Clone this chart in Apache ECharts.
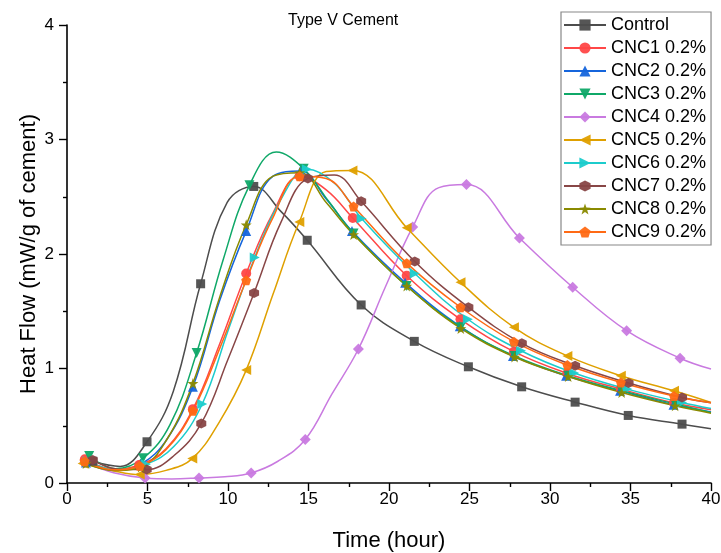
<!DOCTYPE html>
<html>
<head>
<meta charset="UTF-8">
<title>Type V Cement</title>
<script src="https://cdn.jsdelivr.net/npm/echarts@6/dist/echarts.min.js"></script>
<style>
  html, body { margin: 0; padding: 0; background: #fff; }
  #chart { width: 721px; height: 553px; }
</style>
</head>
<body>
<div id="chart"></div>
<script>
// series names
var names = ['Control', 'CNC1 0.2%', 'CNC2 0.2%', 'CNC3 0.2%', 'CNC4 0.2%', 'CNC5 0.2%',
             'CNC6 0.2%', 'CNC7 0.2%', 'CNC8 0.2%', 'CNC9 0.2%'];

// marked points [time, heat flow]
var controlPts = [[1.6,0.19],[4.97,0.36],[8.3,1.74],[11.6,2.59],[14.92,2.12],[18.27,1.555],[21.57,1.237],[24.93,1.015],[28.24,0.84],[31.56,0.706],[34.86,0.59],[38.2,0.514]];
var cnc1Pts = [[1.11,0.207],[4.48,0.157],[7.82,0.645],[11.13,1.83],[14.45,2.68],[17.75,2.315],[21.1,1.81],[24.44,1.43],[27.76,1.147],[31.08,0.957],[34.4,0.82],[37.7,0.70]];
var cnc2Pts = [[1.18,0.178],[4.6,0.165],[7.82,0.84],[11.13,2.2],[14.49,2.725],[17.7,2.2],[21.0,1.75],[24.4,1.37],[27.7,1.11],[31.0,0.937],[34.35,0.805],[37.67,0.683]];
var cnc3Pts = [[1.38,0.236],[4.72,0.216],[8.05,1.135],[11.33,2.6],[14.7,2.745],[17.8,2.18],[21.1,1.72],[24.46,1.36],[27.8,1.11],[31.13,0.937],[34.45,0.805],[37.77,0.69]];
var cnc4Pts = [[1.11,0.178],[4.85,0.044],[8.2,0.044],[11.44,0.088],[14.8,0.38],[18.1,1.17],[21.47,2.235],[24.81,2.606],[28.1,2.14],[31.41,1.71],[34.76,1.33],[38.08,1.09]];
var cnc5Pts = [[0.97,0.17],[4.52,0.074],[7.78,0.213],[11.13,0.986],[14.43,2.28],[17.73,2.73],[21.1,2.23],[24.44,1.753],[27.76,1.36],[31.08,1.11],[34.4,0.937],[37.7,0.805]];
var cnc6Pts = [[1.28,0.19],[4.9,0.163],[8.4,0.69],[11.66,1.97],[14.9,2.74],[18.3,2.31],[21.6,1.83],[24.9,1.43],[28.2,1.155],[31.5,0.96],[34.8,0.82],[38.2,0.703]];
var cnc7Pts = [[1.6,0.2],[4.95,0.117],[8.34,0.52],[11.62,1.66],[14.96,2.66],[18.27,2.46],[21.6,1.935],[24.93,1.535],[28.25,1.22],[31.56,1.024],[34.88,0.873],[38.2,0.747]];
var cnc8Pts = [[1.18,0.17],[4.6,0.14],[7.82,0.87],[11.13,2.255],[14.45,2.71],[17.8,2.17],[21.1,1.72],[24.46,1.35],[27.8,1.10],[31.13,0.93],[34.45,0.79],[37.77,0.674]];
var cnc9Pts = [[1.09,0.19],[4.52,0.15],[7.82,0.63],[11.13,1.77],[14.45,2.68],[17.8,2.415],[21.1,1.92],[24.44,1.535],[27.76,1.234],[31.08,1.03],[34.4,0.878],[37.7,0.76]];

// unmarked points on the curves, read between the markers (minimum, rise, peak, end)
var controlCurve = [[3.3,0.145],[6.6,0.8],[9.95,2.45],[13.3,2.37],[40,0.473]];
var cnc1Curve = [[2.9,0.12],[6.15,0.3],[9.5,1.22],[12.8,2.36],[16.1,2.56],[40,0.64]];
var cnc2Curve = [[2.9,0.11],[6.2,0.38],[9.5,1.6],[12.8,2.68],[16.1,2.48],[40,0.62]];
var cnc3Curve = [[3.0,0.125],[6.4,0.51],[9.7,1.95],[13.0,2.89],[16.25,2.46],[40,0.615]];
var cnc4Curve = [[2.9,0.09],[6.5,0.036],[9.8,0.055],[13.1,0.19],[16.45,0.776],[19.8,1.72],[23.1,2.58],[40,0.995]];
var cnc5Curve = [[2.8,0.11],[6.15,0.11],[9.45,0.53],[12.8,1.65],[16.1,2.72],[40,0.703]];
var cnc6Curve = [[3.0,0.115],[6.65,0.32],[10.0,1.33],[13.3,2.48],[16.6,2.62],[40,0.65]];
var cnc7Curve = [[3.2,0.12],[6.65,0.24],[10.0,1.08],[13.3,2.28],[16.6,2.69],[40,0.70]];
var cnc8Curve = [[2.9,0.11],[6.2,0.38],[9.5,1.63],[12.8,2.68],[16.1,2.45],[40,0.61]];
var cnc9Curve = [[2.9,0.115],[6.15,0.29],[9.5,1.18],[12.8,2.32],[16.1,2.66],[40,0.70]];

var allPts = [controlPts, cnc1Pts, cnc2Pts, cnc3Pts, cnc4Pts, cnc5Pts, cnc6Pts, cnc7Pts, cnc8Pts, cnc9Pts];
var allCurve = [controlCurve, cnc1Curve, cnc2Curve, cnc3Curve, cnc4Curve, cnc5Curve, cnc6Curve, cnc7Curve, cnc8Curve, cnc9Curve];

var colors = ['#4d4d4d', '#ff4747', '#1565dc', '#0fa868', '#c97ae0', '#dfa000',
              '#1ccccc', '#884646', '#8a8a00', '#ff6a14'];

var triDown = 'path://M-10,-8 L10,-8 0,9Z';
var triLeft = 'path://M-9,0 L8,-10 8,10Z';
var triRight = 'path://M9,0 L-8,-10 -8,10Z';
var hexagon = 'path://M0,-10 L8.66,-5 8.66,5 0,10 -8.66,5 -8.66,-5Z';
var star = 'path://M0,-10 L2.35,-3.24 9.51,-3.09 3.8,1.24 5.88,8.09 0,4 -5.88,8.09 -3.8,1.24 -9.51,-3.09 -2.35,-3.24Z';
var pentagon = 'path://M0,-10 L9.51,-3.09 5.88,8.09 -5.88,8.09 -9.51,-3.09Z';
var symbols = ['rect', 'circle', 'triangle', triDown, 'diamond', triLeft, triRight, hexagon, star, pentagon];
var sizes = [9, 10, 10, 10, 11, 10, 10, 10, 11, 10];

function buildData(pts, curve) {
    var d = pts.map(function (p) { return { value: p }; });
    curve.forEach(function (p) { d.push({ value: p, symbol: 'none' }); });
    d.sort(function (a, b) { return a.value[0] - b.value[0]; });
    return d;
}

var series = [];
for (var i = 0; i < names.length; i++) {
    series.push({
        name: names[i],
        type: 'line',
        smooth: 0.4,
        data: buildData(allPts[i], allCurve[i]),
        symbol: symbols[i],
        symbolSize: sizes[i],
        showAllSymbol: true,
        lineStyle: { color: colors[i], width: 1.5 },
        itemStyle: { color: colors[i], opacity: 0.95 },
        emphasis: { disabled: true }
    });
}

var font = 'Liberation Sans, Arial, sans-serif';
var chart = echarts.init(document.getElementById('chart'));
chart.setOption({
    animation: false,
    color: colors,
    title: {
        text: 'Type V Cement',
        left: 283, top: 8,
        textStyle: { fontFamily: font, fontSize: 16, fontWeight: 'normal', color: '#000' }
    },
    legend: {
        orient: 'vertical',
        left: 561, top: 12,
        padding: [4, 5, 4, 2],
        itemWidth: 42, itemHeight: 14, itemGap: 5,
        borderColor: '#888', borderWidth: 1.2,
        textStyle: { fontFamily: font, fontSize: 18, color: '#000', lineHeight: 18 },
        data: names
    },
    grid: { left: 67, right: 10, top: 25, bottom: 70, outerBoundsMode: 'none' },
    xAxis: {
        type: 'value', min: 0, max: 40, interval: 5,
        name: 'Time (hour)', nameLocation: 'middle', nameGap: 47,
        nameTextStyle: { fontFamily: font, fontSize: 22, color: '#000' },
        axisLine: { lineStyle: { color: '#000', width: 1.6 } },
        axisTick: { inside: false, length: 8, lineStyle: { color: '#000', width: 1.4 } },
        minorTick: { show: true, splitNumber: 2, length: 4, lineStyle: { color: '#000', width: 1.4 } },
        axisLabel: { fontFamily: font, fontSize: 17, color: '#000', margin: 8 },
        splitLine: { show: false }
    },
    yAxis: {
        type: 'value', min: 0, max: 4, interval: 1,
        name: 'Heat Flow (mW/g of cement)', nameLocation: 'middle', nameGap: 27,
        nameMoveOverlap: false,
        nameTextStyle: { fontFamily: font, fontSize: 22, color: '#000' },
        axisLine: { show: true, lineStyle: { color: '#000', width: 1.6 } },
        axisTick: { show: true, inside: false, length: 8, lineStyle: { color: '#000', width: 1.4 } },
        minorTick: { show: true, splitNumber: 2, length: 4, lineStyle: { color: '#000', width: 1.4 } },
        axisLabel: { fontFamily: font, fontSize: 17, color: '#000', margin: 13 },
        splitLine: { show: false }
    },
    series: series
});
</script>
</body>
</html>
